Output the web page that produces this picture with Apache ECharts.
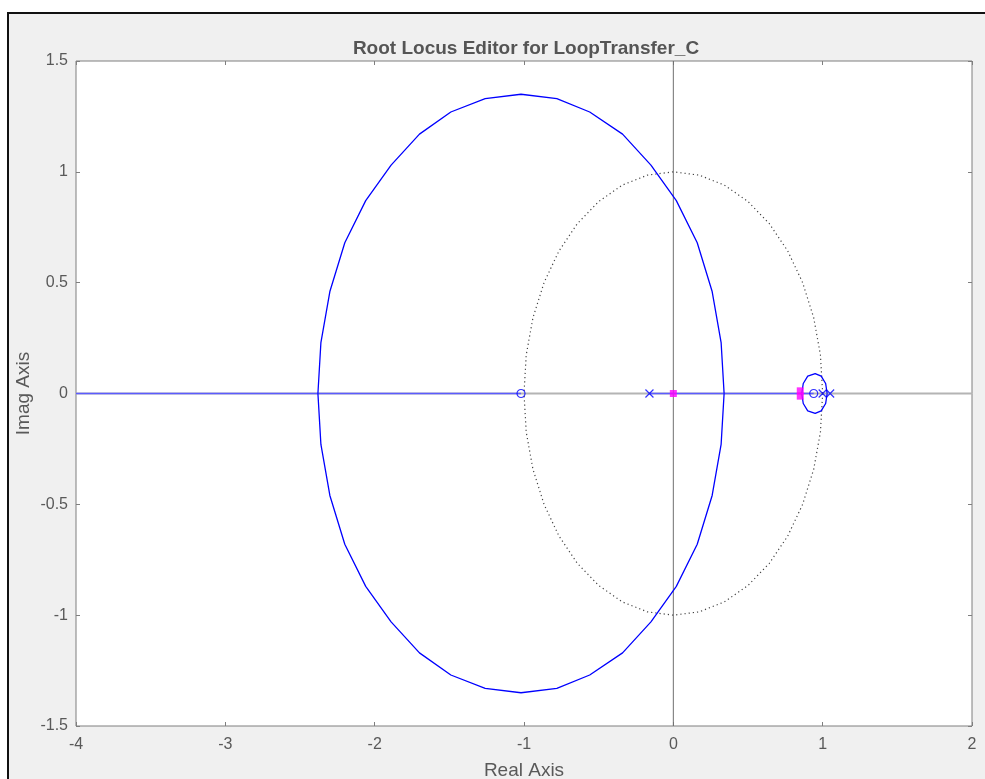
<!DOCTYPE html>
<html>
<head>
<meta charset="utf-8">
<script src="https://cdn.jsdelivr.net/npm/echarts@6/dist/echarts.min.js"></script>
<style>
html,body{margin:0;padding:0;background:#fff;width:985px;height:779px;overflow:hidden;}
#frame{position:absolute;left:7px;top:12px;width:1000px;height:800px;border-left:2px solid #111;border-top:2px solid #111;background:#f0f0f0;}
#chart{position:absolute;left:0;top:0;width:985px;height:779px;}
</style>
</head>
<body>
<div id="frame"></div>
<div id="chart"></div>
<script>
// ---- data ----
const titleText = 'Root Locus Editor for LoopTransfer_C';
const xAxisName = 'Real Axis';
const yAxisName = 'Imag Axis';
const xRange = [-4, 2];
const yRange = [-1.5, 1.5];

// big locus branch (upper half, from right crossing to left crossing)
const bigLocusRe = [0.34, 0.32, 0.26, 0.16, 0.02, -0.15, -0.34, -0.56, -0.78, -1.02, -1.26, -1.49, -1.70, -1.89, -2.06, -2.20, -2.30, -2.36, -2.38];
const bigLocusImUp = [0, 0.23, 0.46, 0.68, 0.87, 1.03, 1.17, 1.27, 1.33, 1.35, 1.33, 1.27, 1.17, 1.03, 0.87, 0.68, 0.46, 0.23, 0];
const bigLocusImDown = [0, -0.23, -0.46, -0.68, -0.87, -1.03, -1.17, -1.27, -1.33, -1.35, -1.33, -1.27, -1.17, -1.03, -0.87, -0.68, -0.46, -0.23, 0];

// small locus loop near z = 0.95
const smallLocusRe = [1.03, 1.02, 0.99, 0.95, 0.90, 0.87, 0.86];
const smallLocusImUp = [0, 0.045, 0.078, 0.09, 0.078, 0.045, 0];
const smallLocusImDown = [0, -0.045, -0.078, -0.09, -0.078, -0.045, 0];

// unit circle (dotted damping grid)
const unitRe = [1, 0.985, 0.940, 0.866, 0.766, 0.643, 0.5, 0.342, 0.174, 0, -0.174, -0.342, -0.5, -0.643, -0.766, -0.866, -0.940, -0.985, -1];
const unitImUp = [0, 0.174, 0.342, 0.5, 0.643, 0.766, 0.866, 0.940, 0.985, 1, 0.985, 0.940, 0.866, 0.766, 0.643, 0.5, 0.342, 0.174, 0];
const unitImDown = [0, -0.174, -0.342, -0.5, -0.643, -0.766, -0.866, -0.940, -0.985, -1, -0.985, -0.940, -0.866, -0.766, -0.643, -0.5, -0.342, -0.174, 0];

// real-axis locus segments (blue)
const realLocusSegments = [[-4, -1.02], [-0.16, 0.94]];

// open-loop zeros (o) and poles (x)
const zerosRe = [-1.02, 0.94];
const polesRe = [-0.16, 1.0, 1.05];
// closed-loop poles (magenta squares)
const clPolesRe = [0.0, 0.85, 0.85];
const clPolesIm = [0.0, 0.012, -0.012];

const pairs = (xs, ys) => xs.map((x, i) => [x, ys[i]]);

const blue = '#0000ff';
const labelColor = '#595959';
const font = 'Liberation Sans';

const series = [];
// gray horizontal zero line
series.push({type:'line', data:[[xRange[0],0],[xRange[1],0]], symbol:'none', silent:true,
  lineStyle:{color:'#b4b4b4', width:2}, z:1});
// gray vertical zero line
series.push({type:'line', data:[[0,yRange[0]],[0,yRange[1]]], symbol:'none', silent:true,
  lineStyle:{color:'#707070', width:1}, z:1});
// unit circle
[unitImUp, unitImDown].forEach(im => series.push({type:'line', data:pairs(unitRe, im), symbol:'none',
  lineStyle:{color:'#444', width:1.2, type:[1.2,3]}, z:2}));
// real-axis blue segments
realLocusSegments.forEach(s => series.push({type:'line', data:[[s[0],0],[s[1],0]], symbol:'none',
  lineStyle:{color:'#5c5cff', width:1.5}, z:3}));
// locus branches
[bigLocusImUp, bigLocusImDown].forEach(im => series.push({type:'line', data:pairs(bigLocusRe, im), symbol:'none',
  lineStyle:{color:blue, width:1.3}, z:3}));
[smallLocusImUp, smallLocusImDown].forEach(im => series.push({type:'line', data:pairs(smallLocusRe, im), symbol:'none',
  lineStyle:{color:blue, width:1.3}, z:3}));
// zeros
series.push({type:'scatter', data:zerosRe.map(x=>[x,0]), symbol:'circle', symbolSize:8,
  itemStyle:{color:'rgba(0,0,0,0)', borderColor:blue, borderWidth:1.2}, z:4});
// poles
series.push({type:'scatter', data:polesRe.map(x=>[x,0]), symbol:'path://M0,0L10,10M10,0L0,10', symbolSize:8,
  itemStyle:{color:'rgba(0,0,0,0)', borderColor:blue, borderWidth:1.2}, z:4});
// closed-loop poles
series.push({type:'scatter', data:pairs(clPolesRe, clPolesIm), symbol:'rect', symbolSize:7,
  itemStyle:{color:'#ff00ff'}, z:5});

const axisCommon = {
  axisLine:{show:false, onZero:false},
  splitLine:{show:false},
  axisTick:{show:true, inside:true, length:4, lineStyle:{color:'#7f7f7f'}},
};

const chart = echarts.init(document.getElementById('chart'), null, {renderer:'canvas'});
chart.setOption({
  animation:false,
  backgroundColor:'transparent',
  title:{text:titleText, left:521, top:34, textAlign:'center',
    textStyle:{fontFamily:font, fontSize:19, fontWeight:'bold', color:'#555'}},
  grid:{left:76, top:61, right:13, bottom:53, show:true, outerBoundsMode:'none', containLabel:false,
    backgroundColor:'#fff', borderColor:'#7f7f7f', borderWidth:1},
  xAxis:[
    Object.assign({type:'value', min:xRange[0], max:xRange[1], interval:1, position:'bottom',
      name:xAxisName, nameLocation:'middle', nameGap:35,
      nameTextStyle:{fontFamily:font, fontSize:19, color:labelColor},
      axisLabel:{fontFamily:font, fontSize:16, color:labelColor, margin:11}}, axisCommon),
    Object.assign({type:'value', min:xRange[0], max:xRange[1], interval:1, position:'top',
      axisLabel:{show:false}}, axisCommon)
  ],
  yAxis:[
    Object.assign({type:'value', min:yRange[0], max:yRange[1], interval:0.5, position:'left',
      name:yAxisName, nameLocation:'middle', nameGap:43, nameRotate:90, nameMoveOverlap:false,
      nameTextStyle:{fontFamily:font, fontSize:19, color:labelColor},
      axisLabel:{fontFamily:font, fontSize:16, color:labelColor, margin:8}}, axisCommon),
    Object.assign({type:'value', min:yRange[0], max:yRange[1], interval:0.5, position:'right',
      axisLabel:{show:false}}, axisCommon)
  ],
  series:series
});
</script>
</body>
</html>
